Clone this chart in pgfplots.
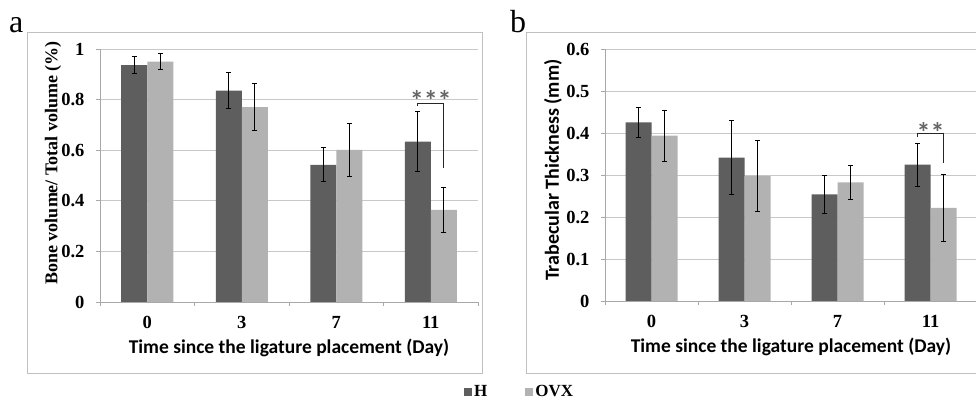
\documentclass[border=0pt]{standalone}
\usepackage{pgfplots}
\usepackage{pgfplotstable}
\pgfplotsset{compat=1.18}
\usepackage{fontspec}
\setmainfont{Liberation Serif}
\newfontfamily\calib{Carlito}

\definecolor{hbar}{HTML}{5E5E5E}
\definecolor{ovxbar}{HTML}{B2B2B2}
\definecolor{gridc}{HTML}{C8C8C8}
\definecolor{axisc}{HTML}{A8A8A8}
\definecolor{framec}{HTML}{C0C0C0}
\definecolor{starc}{HTML}{666666}

% bone volume / total volume
\pgfplotstableread{
x h    he    o     oe
0 0.936 0.034 0.950 0.032
1 0.835 0.072 0.770 0.092
2 0.542 0.067 0.601 0.104
3 0.634 0.118 0.364 0.089
}\dataA
% trabecular thickness
\pgfplotstableread{
x h    he    o     oe
0 0.426 0.036 0.394 0.061
1 0.342 0.089 0.298 0.084
2 0.254 0.046 0.283 0.040
3 0.325 0.051 0.222 0.080
}\dataB

\pgfplotsset{
  panel/.style={
    scale only axis,
    xmin=-0.5, xmax=3.5, ymin=0,
    ybar=0pt, bar width=26pt,
    axis x line*=bottom, axis y line*=left,
    axis line style={axisc, line width=0.8pt},
    ymajorgrids, grid style={gridc, line width=0.8pt},
    xtick={-0.5,0.5,1.5,2.5,3.5}, xticklabels={},
    extra x ticks={0,1,2,3}, extra x tick labels={0,3,7,11},
    extra x tick style={major tick length=0pt},
    tick align=outside, major tick length=4pt,
    tick style={axisc, line width=0.8pt},
    ticklabel style={font=\fontsize{18.5}{18.5}\selectfont\bfseries},
    /pgf/number format/assume math mode=true,
    xticklabel style={yshift=-11pt},
    xlabel={Time since the ligature placement (Day)},
    xlabel style={font=\calib\fontsize{19.5}{19.5}\selectfont\bfseries,
      at={(axis description cs:0.5,-0.183)}, anchor=center},
    error bars/y dir=both, error bars/y explicit,
    error bars/error bar style={draw=black, solid, line width=1pt},
    error bars/error mark options={rotate=90, draw=black, mark size=2.5pt, line width=1pt},
  },
  sq/.style={legend image code/.code={\fill[##1] (0pt,-4pt) rectangle (8pt,4pt);}},
}

\begin{document}
\begin{tikzpicture}
\useasboundingbox (0pt,0pt) rectangle (976pt,404pt);
\draw[framec, line width=1pt] (27pt,31pt) rectangle (482pt,371pt);
\draw[framec, line width=1pt] (526pt,31pt) rectangle (995pt,371pt);
\node[anchor=base west, inner sep=0pt, font=\fontsize{32}{32}\selectfont] at (9pt,371pt) {a};
\node[anchor=base west, inner sep=0pt, font=\fontsize{32}{32}\selectfont] at (510pt,371pt) {b};

\begin{axis}[panel,
  at={(100pt,102pt)}, anchor=south west,
  width=378pt, height=253pt,
  ymax=1, ytick={0,0.2,0.4,0.6,0.8,1},
  yticklabel style={xshift=-8pt},
  ylabel={Bone volume/ Total volume (\%)},
  ylabel style={font=\fontsize{18}{18}\selectfont\bfseries,
    at={(axis description cs:-0.124,0.55)}, anchor=center},
  legend style={at={(axis description cs:1.11,-0.356)}, anchor=center,
    draw=none, fill=none, legend columns=2,
    font=\fontsize{17}{17}\selectfont\bfseries,
    /tikz/every even column/.append style={column sep=36pt}},
  ]
\addplot[fill=hbar, draw=none, sq] table[x=x, y=h, y error=he] {\dataA};
\addplot[fill=ovxbar, draw=none, sq] table[x=x, y=o, y error=oe] {\dataA};
\legend{H, OVX}
\draw[black!85, line width=1pt] ([xshift=-13pt]axis cs:3,0.773) -- ([xshift=-13pt]axis cs:3,0.783)
  -- ([xshift=13pt]axis cs:3,0.783) -- ([xshift=13pt]axis cs:3,0.528);
\node[starc, anchor=base, inner sep=0pt, font=\calib\fontsize{28}{28}\selectfont\bfseries] at (axis cs:3,0.758) {***};
\end{axis}

\begin{axis}[panel,
  at={(605pt,103pt)}, anchor=south west,
  width=372pt, height=251.7pt,
  ymax=0.6, ytick={0,0.1,0.2,0.3,0.4,0.5,0.6},
  yticklabel style={xshift=-8pt},
  ylabel={Trabecular Thickness (mm)},
  ylabel style={font=\calib\fontsize{20}{20}\selectfont\bfseries,
    at={(axis description cs:-0.14,0.52)}, anchor=center},
  ]
\addplot[fill=hbar, draw=none] table[x=x, y=h, y error=he] {\dataB};
\addplot[fill=ovxbar, draw=none] table[x=x, y=o, y error=oe] {\dataB};
\draw[black!85, line width=1pt] ([xshift=-13pt]axis cs:3,0.392) -- ([xshift=-13pt]axis cs:3,0.400)
  -- ([xshift=13pt]axis cs:3,0.400) -- ([xshift=13pt]axis cs:3,0.328);
\node[starc, anchor=base, inner sep=0pt, font=\calib\fontsize{28}{28}\selectfont\bfseries] at (axis cs:3,0.379) {**};
\end{axis}
\end{tikzpicture}
\end{document}
